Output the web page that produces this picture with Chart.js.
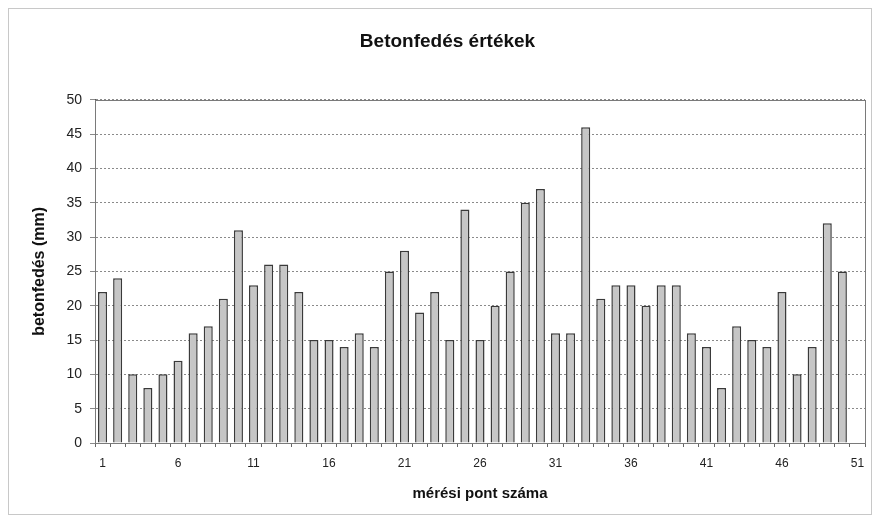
<!DOCTYPE html>
<html lang="hu">
<head>
    <meta charset="UTF-8">
    <title>Betonfedés értékek</title>
    <script src="https://cdn.jsdelivr.net/npm/chart.js"></script>
    <style>
        body { margin: 0; background: #fff; }
        #wrap { width: 880px; height: 516px; }
    </style>
</head>
<body>
    <div id="wrap"><canvas id="coverChart" width="880" height="516"></canvas></div>

    <script>
        // mérési pontok 1..51 (the last one has no measurement)
        var pointLabels = [];
        for (var i = 1; i <= 51; i++) pointLabels.push(String(i));

        // betonfedés (mm)
        var coverValues = [
            22, 24, 10, 8, 10, 12, 16, 17, 21, 31,
            23, 26, 26, 22, 15, 15, 14, 16, 14, 25,
            28, 19, 22, 15, 34, 15, 20, 25, 35, 37,
            16, 16, 46, 21, 23, 23, 20, 23, 23, 16,
            14, 8, 17, 15, 14, 22, 10, 14, 32, 25,
            null
        ];

        var yTicks = [0, 5, 10, 15, 20, 25, 30, 35, 40, 45, 50];

        // frame round the whole chart and round the plot area
        var frames = {
            id: 'frames',
            beforeDraw: function (chart) {
                var c = chart.ctx;
                c.save();
                c.fillStyle = '#fff';
                c.fillRect(0, 0, chart.width, chart.height);
                c.strokeStyle = '#c8c8c8';
                c.lineWidth = 1;
                c.strokeRect(8.5, 8.5, chart.width - 17, chart.height - 10);
                c.restore();
            },
            afterDraw: function (chart) {
                var a = chart.chartArea;
                var c = chart.ctx;
                c.save();
                c.strokeStyle = '#7a7a7a';
                c.lineWidth = 1;
                c.strokeRect(Math.round(a.left) + 0.5, Math.round(a.top) + 0.5,
                    Math.round(a.right - a.left), Math.round(a.bottom - a.top));
                c.restore();
            }
        };

        var ctx = document.getElementById('coverChart').getContext('2d');
        var coverChart = new Chart(ctx, {
            type: 'bar',
            data: {
                labels: pointLabels,
                datasets: [{
                    label: 'betonfedés',
                    data: coverValues,
                    backgroundColor: '#c6c6c6',
                    borderColor: '#3a3a3a',
                    borderWidth: 1.5,
                    barPercentage: 0.6,
                    categoryPercentage: 1.0
                }]
            },
            plugins: [frames],
            options: {
                responsive: false,
                animation: false,
                layout: { padding: { left: 30, right: 15, top: 10, bottom: 8 } },
                plugins: {
                    legend: { display: false },
                    tooltip: { enabled: false },
                    title: {
                        display: true,
                        text: 'Betonfedés értékek',
                        color: '#111',
                        font: { family: 'Liberation Sans', size: 19, weight: 'bold' },
                        padding: { top: 20, bottom: 47 }
                    }
                },
                scales: {
                    x: {
                        offset: true,
                        grid: {
                            offset: true,
                            drawOnChartArea: false,
                            drawTicks: true,
                            tickLength: 4,
                            color: '#666'
                        },
                        border: { color: '#555', width: 1 },
                        ticks: {
                            autoSkip: false,
                            maxRotation: 0,
                            color: '#222',
                            padding: 9,
                            font: { family: 'Liberation Sans', size: 12 },
                            callback: function (value, index) {
                                return index % 5 === 0 ? pointLabels[index] : '';
                            }
                        },
                        title: {
                            display: true,
                            text: 'mérési pont száma',
                            color: '#111',
                            font: { family: 'Liberation Sans', size: 15, weight: 'bold' },
                            padding: { top: 10, bottom: 5 }
                        },
                        afterFit: function (scale) { scale.height = 65; }
                    },
                    y: {
                        min: 0,
                        max: 50,
                        afterBuildTicks: function (scale) {
                            scale.ticks = yTicks.map(function (v) { return { value: v }; });
                        },
                        grid: {
                            color: '#8a8a8a',
                            lineWidth: 1,
                            tickLength: 5,
                            drawTicks: true
                        },
                        border: { color: '#555', width: 1, dash: [2, 2] },
                        ticks: {
                            color: '#222',
                            padding: 8,
                            font: { family: 'Liberation Sans', size: 14 }
                        },
                        title: {
                            display: true,
                            text: 'betonfedés (mm)',
                            color: '#111',
                            font: { family: 'Liberation Sans', size: 16, weight: 'bold' },
                            padding: { top: 0, bottom: 8 }
                        },
                        afterFit: function (scale) { scale.width = 65; }
                    }
                }
            }
        });
    </script>
</body>
</html>
